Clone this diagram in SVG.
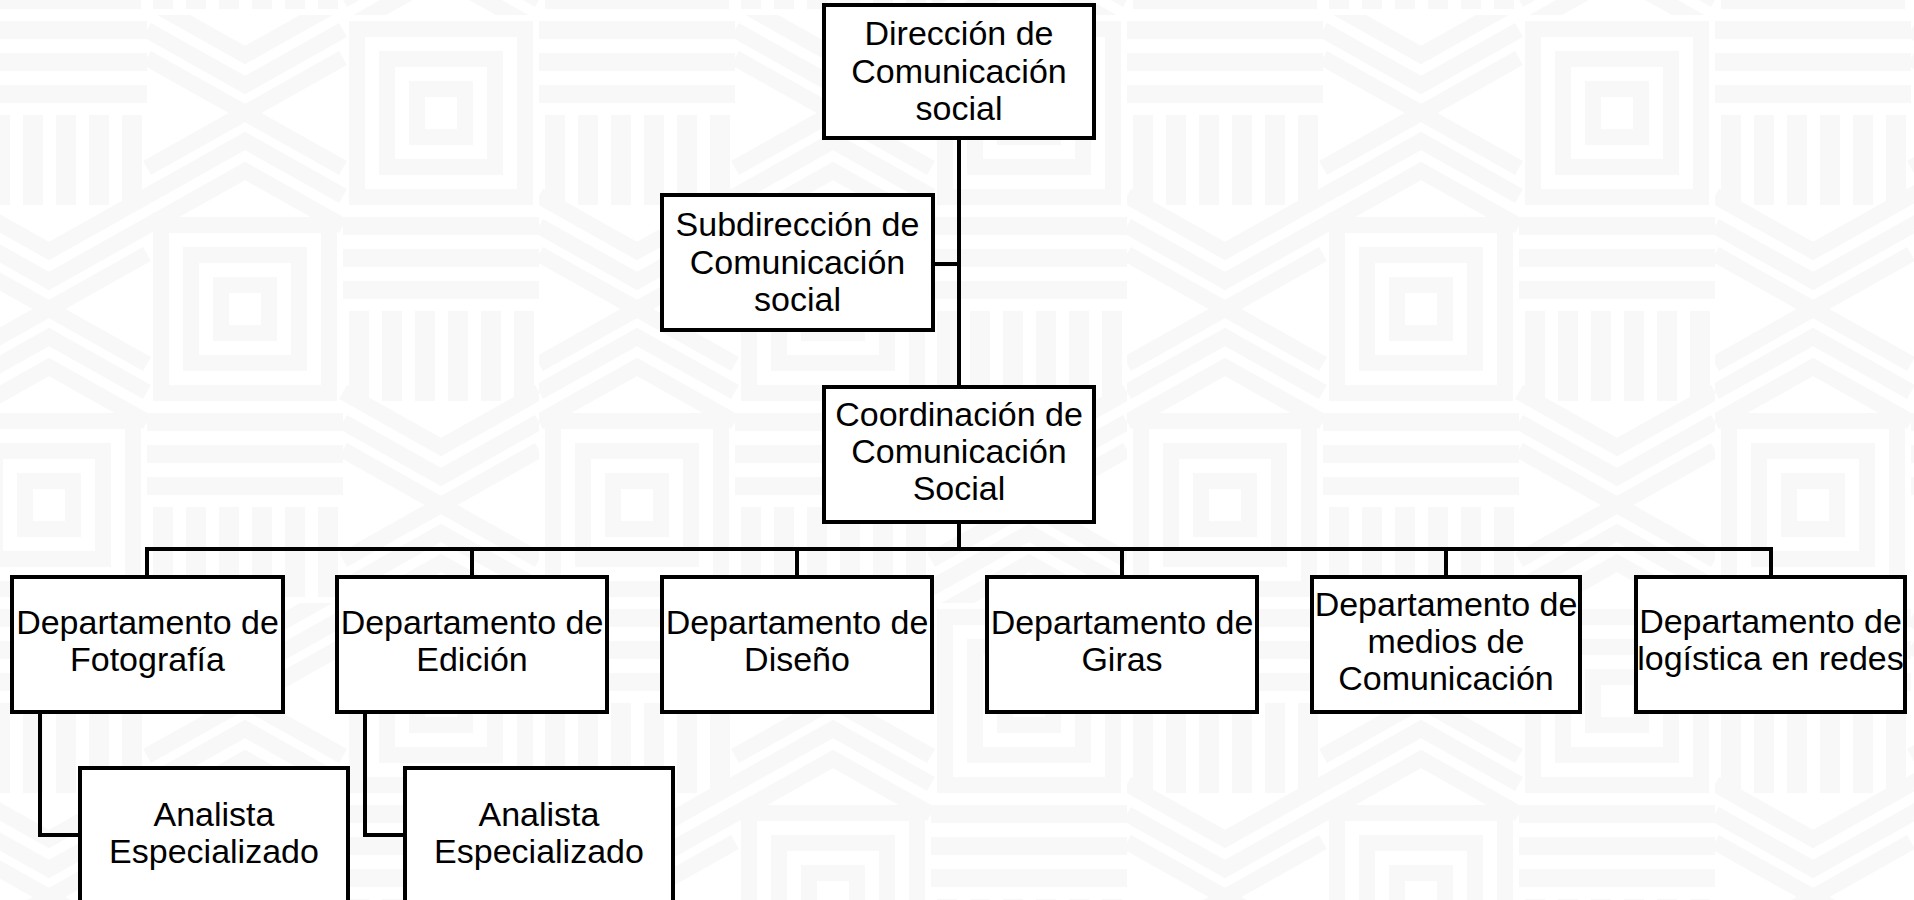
<svg xmlns="http://www.w3.org/2000/svg" xmlns:xlink="http://www.w3.org/1999/xlink" width="1914" height="900" viewBox="0 0 1914 900">
  <style>
    .box { fill: #ffffff; stroke: #000000; stroke-width: 4; }
    .conn { fill: none; stroke: #000000; stroke-width: 4; stroke-linejoin: miter; }
    .lbl { font-family: "Liberation Sans", Arial, sans-serif; font-size: 34px; fill: #000000; text-anchor: middle; }
    .bgf { fill: #f8f8f9; }
    .bgs { fill: none; stroke: #f8f8f9; stroke-width: 16; }
  </style>
  <defs>
    <g id="cellS">
      <rect class="bgf" x="0" y="6" width="196" height="18"/>
      <rect class="bgf" x="0" y="38" width="196" height="18"/>
      <rect class="bgf" x="0" y="70" width="196" height="18"/>
      <rect class="bgf" x="6" y="100" width="20" height="90"/>
      <rect class="bgf" x="39" y="100" width="20" height="90"/>
      <rect class="bgf" x="72" y="100" width="20" height="90"/>
      <rect class="bgf" x="105" y="100" width="20" height="90"/>
      <rect class="bgf" x="138" y="100" width="20" height="90"/>
      <rect class="bgf" x="171" y="100" width="20" height="90"/>
    </g>
    <g id="cellX">
      <path class="bgs" d="M0,-15 L98,40 L196,-15 M0,15 L98,70 L196,15 M0,43 L98,98 L196,43 M0,211 L98,156 L196,211 M0,181 L98,126 L196,181 M0,153 L98,98 L196,153"/>
    </g>
    <g id="cellQ">
      <rect class="bgs" x="14" y="14" width="168" height="168"/>
      <rect class="bgs" x="44" y="44" width="108" height="108"/>
      <rect class="bgs" x="74" y="74" width="48" height="48"/>
    </g>
    <pattern id="bgpat" patternUnits="userSpaceOnUse" width="588" height="588" patternTransform="translate(-49,15)">
      <use xlink:href="#cellS" x="0" y="0"/>
      <use xlink:href="#cellX" x="196" y="0"/>
      <use xlink:href="#cellQ" x="392" y="0"/>
      <use xlink:href="#cellX" x="0" y="196"/>
      <use xlink:href="#cellQ" x="196" y="196"/>
      <use xlink:href="#cellS" x="392" y="196"/>
      <use xlink:href="#cellQ" x="0" y="392"/>
      <use xlink:href="#cellS" x="196" y="392"/>
      <use xlink:href="#cellX" x="392" y="392"/>
    </pattern>
  </defs>

  <rect x="0" y="0" width="1914" height="900" fill="#ffffff"/>
  <rect x="0" y="0" width="1914" height="900" fill="url(#bgpat)"/>

  <g id="connectors">
    <path class="conn" d="M959,138 V387"/>
    <path class="conn" d="M933,264 H959"/>
    <path class="conn" d="M959,522 V549"/>
    <path class="conn" d="M147,577 V549 H1771 V577"/>
    <path class="conn" d="M472,549 V577"/>
    <path class="conn" d="M797,549 V577"/>
    <path class="conn" d="M1122,549 V577"/>
    <path class="conn" d="M1446,549 V577"/>
    <path class="conn" d="M40,712 V835 H80"/>
    <path class="conn" d="M365,712 V835 H405"/>
  </g>

  <g id="direccion">
    <rect class="box" x="824" y="5" width="270" height="133"/>
    <text class="lbl" x="959" y="45">Dirección de</text>
    <text class="lbl" x="959" y="83">Comunicación</text>
    <text class="lbl" x="959" y="120">social</text>
  </g>

  <g id="subdireccion">
    <rect class="box" x="662" y="195" width="271" height="135"/>
    <text class="lbl" x="797.5" y="236">Subdirección de</text>
    <text class="lbl" x="797.5" y="274">Comunicación</text>
    <text class="lbl" x="797.5" y="311">social</text>
  </g>

  <g id="coordinacion">
    <rect class="box" x="824" y="387" width="270" height="135"/>
    <text class="lbl" x="959" y="426">Coordinación de</text>
    <text class="lbl" x="959" y="463">Comunicación</text>
    <text class="lbl" x="959" y="500">Social</text>
  </g>

  <g id="dep-fotografia">
    <rect class="box" x="12" y="577" width="271" height="135"/>
    <text class="lbl" x="147.5" y="634">Departamento de</text>
    <text class="lbl" x="147.5" y="671">Fotografía</text>
  </g>

  <g id="dep-edicion">
    <rect class="box" x="337" y="577" width="270" height="135"/>
    <text class="lbl" x="472" y="634">Departamento de</text>
    <text class="lbl" x="472" y="671">Edición</text>
  </g>

  <g id="dep-diseno">
    <rect class="box" x="662" y="577" width="270" height="135"/>
    <text class="lbl" x="797" y="634">Departamento de</text>
    <text class="lbl" x="797" y="671">Diseño</text>
  </g>

  <g id="dep-giras">
    <rect class="box" x="987" y="577" width="270" height="135"/>
    <text class="lbl" x="1122" y="634">Departamento de</text>
    <text class="lbl" x="1122" y="671">Giras</text>
  </g>

  <g id="dep-medios">
    <rect class="box" x="1312" y="577" width="268" height="135"/>
    <text class="lbl" x="1446" y="616">Departamento de</text>
    <text class="lbl" x="1446" y="653">medios de</text>
    <text class="lbl" x="1446" y="690">Comunicación</text>
  </g>

  <g id="dep-logistica">
    <rect class="box" x="1636" y="577" width="269" height="135"/>
    <text class="lbl" x="1770.5" y="633">Departamento de</text>
    <text class="lbl" x="1770.5" y="670">logística en redes</text>
  </g>

  <g id="analista-1">
    <rect class="box" x="80" y="768" width="268" height="136"/>
    <text class="lbl" x="214" y="826">Analista</text>
    <text class="lbl" x="214" y="863">Especializado</text>
  </g>

  <g id="analista-2">
    <rect class="box" x="405" y="768" width="268" height="136"/>
    <text class="lbl" x="539" y="826">Analista</text>
    <text class="lbl" x="539" y="863">Especializado</text>
  </g>
</svg>
